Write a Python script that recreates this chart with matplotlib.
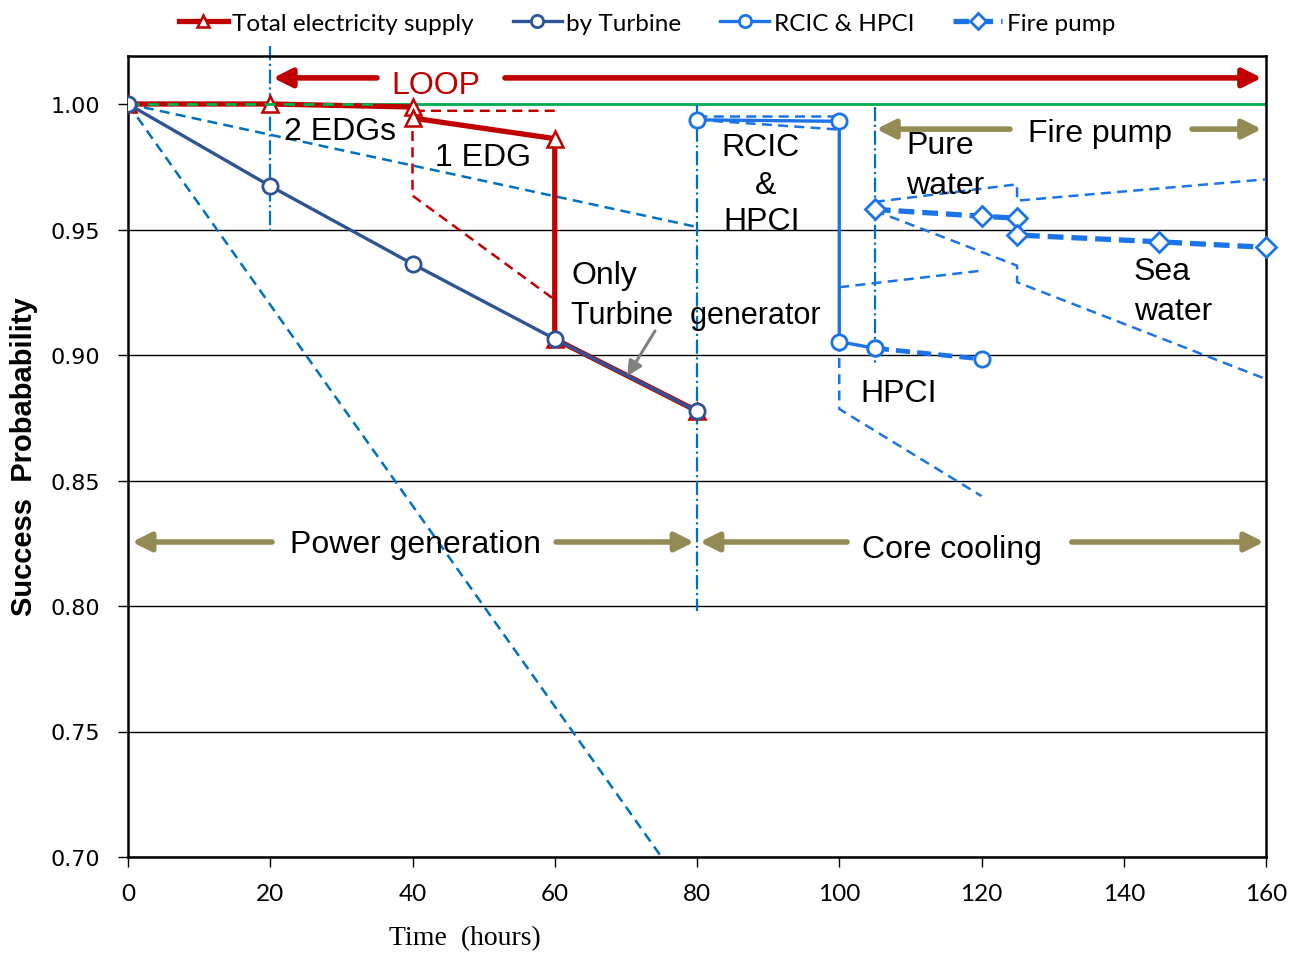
import matplotlib
matplotlib.use("Agg")
import matplotlib.pyplot as plt

# ---------------- data ----------------
supply_t = [0, 20, 40, 40, 60, 60, 80]
supply_p = [1.000, 1.000, 0.9988, 0.9944, 0.9862, 0.9064, 0.8777]

turbine_t = [0, 20, 40, 60, 80]
turbine_p = [1.000, 0.9673, 0.9363, 0.9064, 0.8777]

rcic_t = [80, 100, 100, 105]
rcic_p = [0.9937, 0.9931, 0.9053, 0.9027]
hpci_t = [105, 120]
hpci_p = [0.9027, 0.8984]

fire_t = [105, 120, 125, 125, 145, 160]
fire_p = [0.9580, 0.9553, 0.9545, 0.9478, 0.9451, 0.9429]

# uncertainty bands
pg_up_t, pg_up_p = [0, 80], [1.000, 0.951]
pg_lo_t, pg_lo_p = [0, 75], [1.000, 0.700]
edg_t, edg_p = [60, 40, 40, 60], [0.9973, 0.9973, 0.9635, 0.922]
rcic_up_t, rcic_up_p = [80, 100], [0.9953, 0.9953]
rcic_lo_t, rcic_lo_p = [80, 100], [0.9937, 0.9898]
hpci_up_t, hpci_up_p = [100, 120], [0.927, 0.9336]
hpci_lo_t, hpci_lo_p = [100, 100, 120], [0.9053, 0.8785, 0.8438]
fire_up_t, fire_up_p = [105, 125, 125, 160], [0.961, 0.968, 0.9615, 0.970]
fire_lo_t, fire_lo_p = [105, 125, 125, 160], [0.9575, 0.9356, 0.929, 0.8904]

x_ticks = [0, 20, 40, 60, 80, 100, 120, 140, 160]
y_ticks = [0.70, 0.75, 0.80, 0.85, 0.90, 0.95, 1.00]

# ---------------- style ----------------
RED = "#C00000"
NAVY = "#2F5496"
BLUE = "#1a73e8"
LBLUE = "#0070C0"
GREEN = "#00B050"
OLIVE = "#948A54"
TXT = "Liberation Sans"

fig = plt.figure(figsize=(12.98, 9.54), dpi=100)
ax = fig.add_axes([128/1298, 1-858/954, (1266-128)/1298, (858-57)/954])
ax.set_xlim(0, 160)
ax.set_ylim(0.70, 1.0 + 48/2510)

for y in y_ticks:
    ax.axhline(y, color="black", lw=1.0, zorder=1)
ax.axhline(1.0, color=GREEN, lw=2.0, zorder=2)

# vertical dash-dot lines
ax.plot([20, 20], [1.0 + 58/2510, 0.950], color=LBLUE, lw=1.6, ls="-.", clip_on=False, zorder=2)
ax.plot([80, 80], [1.0, 0.798], color=LBLUE, lw=1.6, ls="-.", zorder=2)
ax.plot([105, 105], [0.999, 0.897], color=LBLUE, lw=1.6, ls="-.", zorder=2)

# bands
dash_kw = dict(lw=1.8, dashes=(4, 2.5), zorder=3)
ax.plot(pg_up_t, pg_up_p, color=LBLUE, **dash_kw)
ax.plot(pg_lo_t, pg_lo_p, color=LBLUE, **dash_kw)
ax.plot(edg_t, edg_p, color=RED, **dash_kw)
ax.plot(rcic_up_t, rcic_up_p, color=BLUE, **dash_kw)
ax.plot(rcic_lo_t, rcic_lo_p, color=BLUE, **dash_kw)
ax.plot(hpci_up_t, hpci_up_p, color=BLUE, **dash_kw)
ax.plot(hpci_lo_t, hpci_lo_p, color=BLUE, **dash_kw)
ax.plot(fire_up_t, fire_up_p, color=BLUE, **dash_kw)
ax.plot(fire_lo_t, fire_lo_p, color=BLUE, **dash_kw)

# main series
l_sup, = ax.plot(supply_t, supply_p, color=RED, lw=3.8, marker="^", ms=11,
                 mfc="white", mec=RED, mew=1.8, zorder=5, label="Total electricity supply")
ax.plot([0, 35], [1.0, 1.0], color=GREEN, lw=2.0, dashes=(4, 3), zorder=6)
l_tur, = ax.plot(turbine_t, turbine_p, color=NAVY, lw=2.4, marker="o", ms=11,
                 mfc="white", mec=NAVY, mew=2.0, zorder=6, label="by Turbine")
l_rc, = ax.plot(rcic_t, rcic_p, color=BLUE, lw=2.4, marker="o", ms=11,
                mfc="white", mec=BLUE, mew=2.0, zorder=6, label="RCIC & HPCI")
ax.plot(hpci_t, hpci_p, color=BLUE, lw=3.4, dashes=(3, 1.5), marker="o", ms=11,
        mfc="white", mec=BLUE, mew=2.0, zorder=6)
l_fp, = ax.plot(fire_t, fire_p, color=BLUE, lw=3.8, dashes=(3, 1.5), marker="D", ms=10,
                mfc="white", mec=BLUE, mew=2.0, zorder=6, label="Fire pump", clip_on=False)

# ---------------- annotations ----------------
def arrow(x0, x1, y, color, lw=4.0, ms=28):
    ax.annotate("", xy=(x1, y), xytext=(x0, y),
                arrowprops=dict(arrowstyle="-|>", color=color, lw=lw, mutation_scale=ms,
                                shrinkA=0, shrinkB=0), zorder=7, annotation_clip=False)

arrow(35.0, 20.4, 1.0104, RED)
arrow(53.0, 159.4, 1.0104, RED)
arrow(124.0, 105.2, 0.990, OLIVE)
arrow(149.6, 159.4, 0.990, OLIVE)
arrow(20.25, 0.56, 0.8255, OLIVE)
arrow(60.2, 79.6, 0.8255, OLIVE)
arrow(101.1, 80.4, 0.8255, OLIVE)
arrow(132.7, 159.7, 0.8255, OLIVE)

ax.annotate("", xy=(70.2, 0.8916), xytext=(74.1, 0.9096),
            arrowprops=dict(arrowstyle="-|>", color="#808080", lw=2.2, mutation_scale=22,
                            shrinkA=0, shrinkB=0), zorder=8)

tkw = dict(fontsize=23, family=TXT, color="black", zorder=9)
ax.text(43.3, 1.0076, "LOOP", ha="center", va="center", fontsize=23, family=TXT, color=RED)
ax.text(29.8, 0.9892, "2 EDGs", ha="center", va="center", **tkw)
ax.text(49.9, 0.9789, "1 EDG", ha="center", va="center", **tkw)
ax.text(62.3, 0.9319, "Only", ha="left", va="center", **tkw)
ax.text(62.3, 0.9159, "Turbine  generator", ha="left", va="center",
        fontsize=22, family=TXT, color="black", zorder=9)
ax.text(88.9, 0.9829, "RCIC", ha="center", va="center", **tkw)
ax.text(89.6, 0.9677, "&", ha="center", va="center", **tkw)
ax.text(89.1, 0.9534, "HPCI", ha="center", va="center", **tkw)
ax.text(109.4, 0.9837, "Pure", ha="left", va="center", **tkw)
ax.text(109.4, 0.9677, "water", ha="left", va="center", **tkw)
ax.text(141.4, 0.9335, "Sea", ha="left", va="center", **tkw)
ax.text(141.4, 0.9175, "water", ha="left", va="center", **tkw)
ax.text(102.9, 0.8849, "HPCI", ha="left", va="center", **tkw)
ax.text(136.7, 0.9884, "Fire pump", ha="center", va="center", **tkw)
ax.text(40.4, 0.8247, "Power generation", ha="center", va="center", **tkw)
ax.text(115.9, 0.8227, "Core cooling", ha="center", va="center", **tkw)

# ---------------- axes ----------------
ax.set_xticks(x_ticks)
ax.set_xticklabels([str(v) for v in x_ticks], fontsize=17.5, family="Lato")
ax.set_yticks(y_ticks)
ax.set_yticklabels([f"{v:.2f}" for v in y_ticks], fontsize=16, family="DejaVu Sans")
ax.tick_params(axis="x", direction="out", length=7, width=1, pad=12)
ax.tick_params(axis="y", direction="out", length=7, width=1, pad=13)
for s in ax.spines.values():
    s.set_color("black")
    s.set_linewidth(1.8)

W = 1266 - 128
H = 858 - 57
ax.set_xlabel("Time  (hours)", fontsize=20, family="Liberation Serif")
ax.xaxis.set_label_coords((465-128)/W, -(926-858)/H)
ax.set_ylabel("Success  Probabability", fontsize=21, family=TXT, fontweight="bold")
ax.yaxis.set_label_coords(-(128-38)/W, (858-457)/H)

fig.legend(handles=[l_sup, l_tur, l_rc, l_fp], loc="center", bbox_to_anchor=(647/1298, 1-24/954),
           ncol=4, frameon=False, prop=dict(family="Lato", size=17.5), handlelength=2.0,
           handletextpad=0.2, columnspacing=1.6, markerscale=0.8)

fig.savefig("out.png", dpi=100)
